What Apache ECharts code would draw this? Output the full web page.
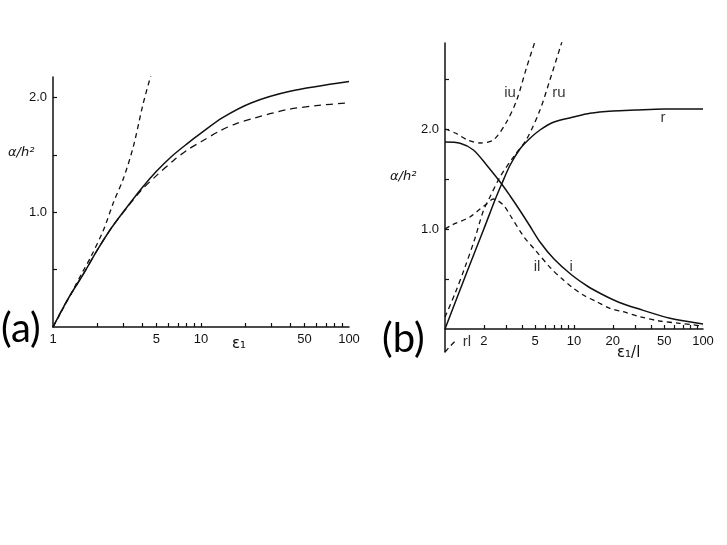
<!DOCTYPE html>
<html>
<head>
<meta charset="utf-8">
<script src="https://cdn.jsdelivr.net/npm/echarts@6/dist/echarts.min.js"></script>
<style>
  html, body { margin: 0; padding: 0; background: #fff; }
  #chart { width: 727px; height: 545px; }
</style>
</head>
<body>
<div id="chart"></div>
<script>
// panel (a): eps1 -> alpha/h^2
const epsASolid = [1, 1.25, 1.6, 2, 2.5, 3.2, 4, 5, 6.3, 8, 10, 14, 22, 40, 100];
const alphaASolid = [0, 0.235, 0.46, 0.675, 0.87, 1.055, 1.215, 1.358, 1.485, 1.595, 1.69, 1.825, 1.955, 2.055, 2.14];
const epsALow = [1, 1.25, 1.6, 2, 2.5, 3.2, 4, 5, 6.5, 8, 10, 13.4, 17, 22.6, 38, 60, 100];
const alphaALow = [0, 0.235, 0.46, 0.675, 0.87, 1.05, 1.2, 1.32, 1.45, 1.54, 1.615, 1.71, 1.77, 1.82, 1.895, 1.93, 1.955];
const epsASteep = [1, 1.3, 1.6, 1.8, 2.2, 2.55, 3, 3.5, 4.07, 4.6];
const alphaASteep = [0, 0.27, 0.49, 0.61, 0.85, 1.08, 1.3, 1.58, 1.95, 2.2];

// panel (b): eps1/l -> alpha/h^2
const epsR = [1, 1.5, 2, 2.44, 2.75, 3.2, 3.81, 4.5, 5.45, 7, 9.9, 13.3, 20, 30, 50, 100];
const alphaR = [0, 0.59, 1.0, 1.29, 1.45, 1.64, 1.8, 1.9, 1.99, 2.07, 2.12, 2.157, 2.18, 2.19, 2.2, 2.2];
const epsI = [1, 1.31, 1.66, 2.1, 2.75, 3.2, 3.7, 4.5, 5.45, 7, 9.6, 13, 16.9, 22, 30.6, 55.5, 100];
const alphaI = [1.87, 1.857, 1.79, 1.64, 1.45, 1.33, 1.21, 1.04, 0.87, 0.7, 0.54, 0.42, 0.34, 0.27, 0.207, 0.107, 0.05];
const epsIU = [1, 1.2, 1.5, 1.87, 2.37, 3.0, 3.6, 4.3, 5.0];
const alphaIU = [2.0, 1.96, 1.89, 1.86, 1.89, 2.07, 2.29, 2.62, 2.88];
const epsRU = [1, 1.2, 1.43, 1.7, 1.98, 2.23, 2.67, 3.39, 4.3, 5.45, 6.5, 8.1];
const alphaRU = [0.12, 0.36, 0.62, 0.9, 1.18, 1.32, 1.52, 1.72, 1.9, 2.19, 2.49, 2.88];
const epsIL = [1, 1.13, 1.56, 1.87, 2.1, 2.37, 2.83, 3.19, 4.1, 5, 6.7, 8, 9.6, 11.8, 15, 19, 24, 32.5, 46, 66, 100];
const alphaIL = [1.0, 1.04, 1.12, 1.2, 1.25, 1.3, 1.24, 1.14, 0.92, 0.79, 0.6, 0.507, 0.42, 0.34, 0.273, 0.207, 0.173, 0.123, 0.08, 0.057, 0.03];
const epsRL = [1, 1.1, 1.25];
const alphaRL = [-0.23, -0.17, -0.1];

// axis ticks / labels
const xTicks = [2, 3, 4, 5, 6, 7, 8, 9, 10, 20, 30, 40, 50, 60, 70, 80, 90];
const xLabelsA = [1, 5, 10, 50, 100];
const xLabelsB = [2, 5, 10, 20, 50, 100];
const yTicksA = [0.5, 1, 1.5, 2];
const yTicksB = [0.5, 1, 1.5, 2, 2.5];
const yLabels = [1, 2];

// curve names in panel (b)
const curveNames = ['iu', 'ru', 'r', 'il', 'i', 'rl'];
const namesEps = [3.19, 7.65, 49, 5.17, 9.5, 1.48];
const namesAlpha = [2.36, 2.36, 2.11, 0.62, 0.62, -0.13];

const ink = '#111';
const font = 'Liberation Sans';

function pts(eps, alpha) {
  return eps.map((e, i) => [Math.log10(e), alpha[i]]);
}

function curve(idx, eps, alpha, dash) {
  return {
    type: 'line',
    xAxisIndex: idx,
    yAxisIndex: idx,
    data: pts(eps, alpha),
    smooth: 0.3,
    symbol: 'none',
    silent: true,
    lineStyle: { color: ink, width: dash ? 1.3 : 1.5, type: dash || 'solid' }
  };
}

function xAxis(idx, labels, offset) {
  return {
    type: 'value',
    gridIndex: idx,
    min: 0,
    max: 2,
    offset: offset,
    axisLine: { onZero: false, lineStyle: { color: ink, width: 1.5 } },
    axisTick: { inside: true, length: 4, customValues: xTicks.map(Math.log10), lineStyle: { color: ink, width: 1.2 } },
    axisLabel: {
      customValues: labels.map(Math.log10),
      formatter: v => String(Math.round(Math.pow(10, v))),
      color: ink, fontFamily: font, fontSize: 13, margin: 6
    },
    splitLine: { show: false }
  };
}

function yAxis(idx, min, max, ticks) {
  return {
    type: 'value',
    gridIndex: idx,
    min: min,
    max: max,
    axisLine: { show: true, onZero: false, lineStyle: { color: ink, width: 1.5 } },
    axisTick: { show: true, inside: true, length: 4, customValues: ticks, lineStyle: { color: ink, width: 1.2 } },
    axisLabel: {
      customValues: yLabels,
      formatter: v => v.toFixed(1),
      color: ink, fontFamily: font, fontSize: 13, margin: 6
    },
    splitLine: { show: false }
  };
}

const chart = echarts.init(document.getElementById('chart'));
chart.setOption({
  backgroundColor: '#fff',
  animation: false,
  grid: [
    { left: 53, top: 77, width: 296, height: 250 },
    { left: 445, top: 43, width: 258, height: 309 }
  ],
  // panel (b) x axis sits on alpha = 0, 0.23 units above the grid bottom
  xAxis: [xAxis(0, xLabelsA, 0), xAxis(1, xLabelsB, -23)],
  yAxis: [yAxis(0, 0, 2.18, yTicksA), yAxis(1, -0.23, 2.86, yTicksB)],
  series: [
    curve(0, epsASolid, alphaASolid),
    curve(0, epsALow, alphaALow, [7, 5]),
    curve(0, epsASteep, alphaASteep, [5, 4]),
    curve(1, epsR, alphaR),
    curve(1, epsI, alphaI),
    curve(1, epsIU, alphaIU, [5, 4]),
    curve(1, epsRU, alphaRU, [5, 4]),
    curve(1, epsIL, alphaIL, [5, 4]),
    curve(1, epsRL, alphaRL, [5, 4]),
    {
      type: 'scatter',
      xAxisIndex: 1,
      yAxisIndex: 1,
      symbolSize: 1,
      silent: true,
      itemStyle: { color: 'transparent' },
      data: curveNames.map((n, i) => [Math.log10(namesEps[i]), namesAlpha[i], n]),
      label: {
        show: true,
        position: 'inside',
        formatter: p => p.data[2],
        color: '#000',
        fontFamily: font,
        fontSize: 15
      }
    }
  ],
  graphic: [
    { type: 'text', left: 1, top: 309, style: { text: '(a)', font: '40px Lato', fill: '#000' } },
    { type: 'text', left: 382, top: 319, style: { text: '(b)', font: '40px Lato', fill: '#000' } },
    { type: 'text', left: 8, top: 146, style: { text: 'α/h²', font: 'italic 13px "DejaVu Sans"', fill: ink } },
    { type: 'text', left: 390, top: 170, style: { text: 'α/h²', font: 'italic 13px "DejaVu Sans"', fill: ink } },
    { type: 'text', left: 232, top: 337, style: { text: 'ε₁', font: '15px "DejaVu Sans"', fill: ink } },
    { type: 'text', left: 617, top: 346, style: { text: 'ε₁/l', font: '15px "DejaVu Sans"', fill: ink } }
  ]
});
</script>
</body>
</html>
